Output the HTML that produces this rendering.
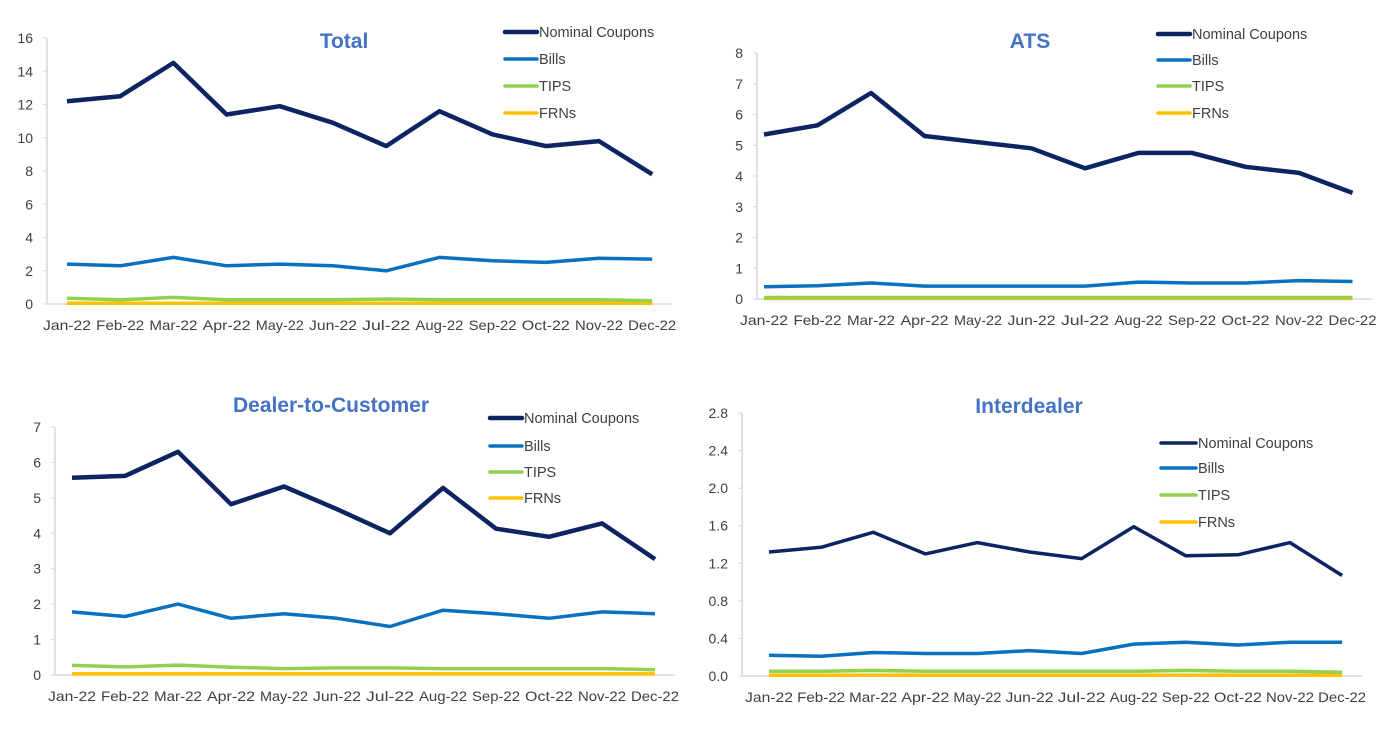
<!DOCTYPE html>
<html><head><meta charset="utf-8"><style>
html,body{margin:0;padding:0;background:#fff;}
svg{display:block;font-family:"Liberation Sans",sans-serif;}
</style></head><body>
<svg id="s" width="1379" height="732" xmlns="http://www.w3.org/2000/svg"></svg>
<script>
const M=["Jan-22","Feb-22","Mar-22","Apr-22","May-22","Jun-22","Jul-22","Aug-22","Sep-22","Oct-22","Nov-22","Dec-22"];
const C=["#0c2461","#0a70c0","#92d050","#ffc000"],N=["Nominal Coupons","Bills","TIPS","FRNs"];
const P=[
{t:"Total",tx:344,ty:48,ax:47,x0:67,dx:53.2,y0:304,yt:38,max:16,step:2,dec:0,lx:505,ly:[32,59,86,113],lw:[4,3,3,3],lxe:32,
d:[[12.2,12.5,14.5,11.4,11.9,10.9,9.5,11.6,10.2,9.5,9.8,7.8],[2.4,2.3,2.8,2.3,2.4,2.3,2.0,2.8,2.6,2.5,2.75,2.7],[0.35,0.25,0.4,0.25,0.25,0.25,0.3,0.25,0.25,0.25,0.25,0.2],Array(12).fill(0.05)]},
{t:"ATS",tx:1030,ty:48,ax:757,x0:764,dx:53.5,y0:299,yt:53,max:8,step:1,dec:0,lx:1158,ly:[34,60,86,113],lw:[4,3,3,3],lxe:32,
d:[[5.35,5.65,6.7,5.3,5.1,4.9,4.25,4.75,4.75,4.3,4.1,3.45],[.4,.43,.52,.42,.42,.42,.42,.55,.52,.52,.6,.57],Array(12).fill(.05),Array(12).fill(.02)]},
{t:"Dealer-to-Customer",tx:331,ty:412,ax:55,x0:72,dx:53,y0:675,yt:427,max:7,step:1,dec:0,lx:490,ly:[418,446,472,498],lw:[4,3,3,3],lxe:32,
d:[[5.57,5.62,6.3,4.82,5.32,4.68,4.0,5.28,4.13,3.9,4.28,3.27],[1.78,1.65,2.0,1.6,1.73,1.6,1.37,1.83,1.73,1.6,1.78,1.73],[.27,.23,.28,.22,.18,.2,.2,.18,.18,.18,.18,.15],Array(12).fill(.03)]},
{t:"Interdealer",tx:1029,ty:413,ax:742,x0:769,dx:52.1,y0:676,yt:413,max:2.8,step:.4,dec:1,lx:1161,ly:[443,468,495,522],lw:[3,3,3,3],lxe:35,
d:[[1.32,1.37,1.53,1.3,1.42,1.32,1.25,1.59,1.28,1.29,1.42,1.07],[.22,.21,.25,.24,.24,.27,.24,.34,.36,.33,.36,.36],[.05,.05,.06,.05,.05,.05,.05,.05,.06,.05,.05,.04],Array(12).fill(.01)]}
];
let h="";
for(const p of P){
 const sc=(p.y0-p.yt)/p.max, Y=v=>p.y0-v*sc, xe=p.x0+p.dx*11+20;
 h+=`<line x1="${p.ax}" y1="${p.yt}" x2="${p.ax}" y2="${p.y0}" stroke="#d9d9d9" stroke-width="1.5"/>`;
 h+=`<line x1="${p.ax}" y1="${p.y0}" x2="${xe}" y2="${p.y0}" stroke="#d9d9d9" stroke-width="1.5"/>`;
 for(let v=0;v<=p.max+1e-9;v+=p.step){
  const y=Y(v);
  h+=`<line x1="${p.ax-4}" y1="${y}" x2="${p.ax}" y2="${y}" stroke="#d9d9d9"/>`;
  h+=`<text x="${p.ax-14}" y="${y+5}" font-size="14" fill="#404040" text-anchor="end">${v.toFixed(p.dec)}</text>`;
 }
 M.forEach((m,i)=>{h+=`<text x="${p.x0+p.dx*i}" y="${p.y0+26}" font-size="14" fill="#404040" text-anchor="middle" textLength="48" lengthAdjust="spacingAndGlyphs">${m}</text>`;});
 h+=`<text x="${p.tx}" y="${p.ty}" font-size="21" font-weight="bold" fill="#4472c4" text-anchor="middle">${p.t}</text>`;
 for(let k=3;k>=0;k--){
  const pts=p.d[k].map((v,i)=>`${(p.x0+p.dx*i).toFixed(1)},${Y(v).toFixed(1)}`).join(" ");
  h+=`<polyline points="${pts}" fill="none" stroke="${C[k]}" stroke-width="${p.lw[k]+0.5}" stroke-linejoin="round"/>`;
 }
 for(let k=0;k<4;k++){
  const y=p.ly[k];
  h+=`<line x1="${p.lx}" y1="${y}" x2="${p.lx+p.lxe}" y2="${y}" stroke="${C[k]}" stroke-width="${p.lw[k]+0.5}" stroke-linecap="round"/>`;
  h+=`<text x="${p.lx+p.lxe+2}" y="${y+5}" font-size="14.5" fill="#404040">${N[k]}</text>`;
 }
}
document.getElementById("s").innerHTML=h;
</script>
</body></html>
